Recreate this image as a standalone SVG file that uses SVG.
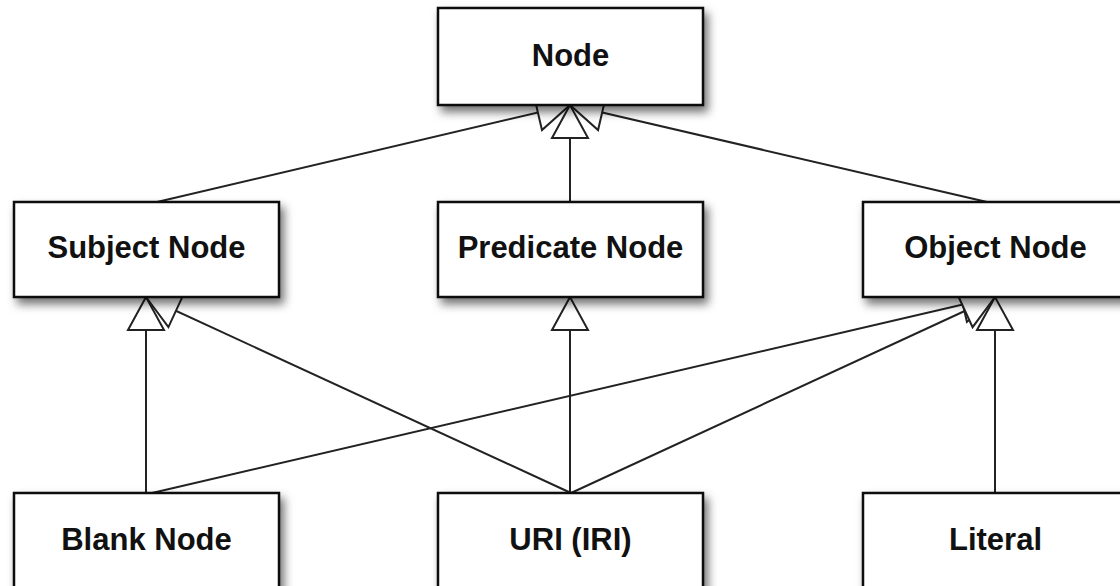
<svg xmlns="http://www.w3.org/2000/svg" width="1120" height="586" viewBox="0 0 1120 586">
<defs>
<filter id="sh" x="-10%" y="-20%" width="130%" height="150%">
<feDropShadow dx="4" dy="6" stdDeviation="5" flood-color="#000" flood-opacity="0.55"/>
</filter>
<marker id="tri" viewBox="-40 -24 46 48" refX="0" refY="0" markerWidth="46" markerHeight="48" markerUnits="userSpaceOnUse" orient="auto" overflow="visible">
<path d="M0,0 L-33,-18 L-33,18 Z" fill="#fff" stroke="#222" stroke-width="2"/>
</marker>
</defs>
<style>
.box{fill:#fff;stroke:#111;stroke-width:2.5;filter:url(#sh)}
.lbl{font-family:"Liberation Sans",Arial,Helvetica,sans-serif;font-weight:bold;font-size:31px;fill:#111;text-anchor:middle}
.c{fill:none;stroke:#222;stroke-width:2;marker-end:url(#tri)}
</style>
<rect width="1120" height="586" fill="#fff"/>
<g id="connectors">
<path class="c" d="M157,202 L570,105"/>
<path class="c" d="M987,202 L570,105"/>
<path class="c" d="M570,202 L570,105"/>
<path class="c" d="M571,493 L146,297"/>
<path class="c" d="M146,493 L146,297"/>
<path class="c" d="M152,493 L995,297"/>
<path class="c" d="M571,493 L995,297"/>
<path class="c" d="M995,493 L995,297"/>
<path class="c" d="M570,493 L570,297"/>
</g>
<g id="node-node"><rect class="box" x="438" y="8" width="265" height="97"/><text class="lbl" x="570.5" y="66">Node</text></g>
<g id="node-subject"><rect class="box" x="14" y="202" width="265" height="95"/><text class="lbl" x="146.5" y="258">Subject Node</text></g>
<g id="node-predicate"><rect class="box" x="438" y="202" width="265" height="95"/><text class="lbl" x="570.5" y="258">Predicate Node</text></g>
<g id="node-object"><rect class="box" x="863" y="202" width="265" height="95"/><text class="lbl" x="995.5" y="258">Object Node</text></g>
<g id="node-blank"><rect class="box" x="14" y="493" width="265" height="120"/><text class="lbl" x="146.5" y="550">Blank Node</text></g>
<g id="node-uri"><rect class="box" x="438" y="493" width="265" height="120"/><text class="lbl" x="570.5" y="550">URI (IRI)</text></g>
<g id="node-literal"><rect class="box" x="863" y="493" width="265" height="120"/><text class="lbl" x="995.5" y="550">Literal</text></g>
</svg>
